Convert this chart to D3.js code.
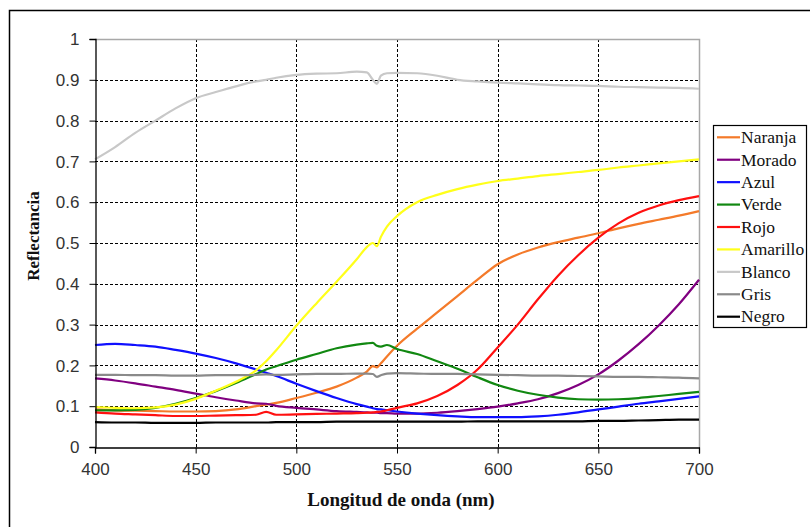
<!DOCTYPE html>
<html><head><meta charset="utf-8">
<script src="https://cdn.jsdelivr.net/npm/d3@7"></script>
<style>
body{margin:0;background:#fff;}
svg{display:block;}
</style>
</head><body>
<svg id="c" width="810" height="527"></svg>
<script>
const wavelengths = [400,410,420,430,440,450,460,470,480,485,490,500,510,520,530,535,538,540,542,545,550,560,570,580,590,600,610,620,630,640,650,660,670,680,690,700];
const naranja  = [0.092,0.090,0.089,0.088,0.087,0.087,0.088,0.092,0.100,0.104,0.108,0.120,0.133,0.148,0.170,0.185,0.198,0.195,0.205,0.222,0.248,0.290,0.330,0.370,0.410,0.448,0.472,0.489,0.502,0.513,0.524,0.536,0.547,0.557,0.567,0.578];
const morado   = [0.168,0.163,0.156,0.148,0.140,0.131,0.122,0.114,0.107,0.106,0.101,0.096,0.092,0.088,0.086,0.085,0.084,0.084,0.083,0.083,0.082,0.082,0.084,0.088,0.093,0.099,0.107,0.117,0.132,0.152,0.178,0.212,0.252,0.298,0.350,0.410];
const azul     = [0.250,0.253,0.250,0.246,0.238,0.229,0.218,0.205,0.190,0.182,0.174,0.155,0.137,0.120,0.105,0.099,0.095,0.093,0.092,0.090,0.087,0.082,0.078,0.075,0.073,0.073,0.073,0.075,0.079,0.085,0.092,0.099,0.106,0.112,0.118,0.124];
const verde    = [0.090,0.090,0.091,0.096,0.106,0.120,0.137,0.157,0.179,0.190,0.198,0.214,0.228,0.242,0.251,0.254,0.255,0.248,0.246,0.250,0.240,0.228,0.210,0.192,0.171,0.152,0.138,0.128,0.121,0.117,0.116,0.117,0.120,0.125,0.130,0.135];
const rojo     = [0.085,0.082,0.080,0.078,0.076,0.076,0.077,0.078,0.079,0.086,0.079,0.080,0.081,0.082,0.083,0.084,0.085,0.086,0.087,0.090,0.096,0.107,0.125,0.152,0.190,0.244,0.300,0.362,0.420,0.470,0.513,0.548,0.574,0.592,0.605,0.615];
const amarillo = [0.098,0.096,0.095,0.097,0.104,0.118,0.138,0.160,0.188,0.210,0.237,0.297,0.352,0.405,0.460,0.490,0.500,0.492,0.515,0.540,0.566,0.600,0.618,0.632,0.643,0.652,0.658,0.664,0.669,0.674,0.679,0.685,0.690,0.695,0.700,0.705];
const blanco   = [0.705,0.735,0.770,0.800,0.830,0.855,0.870,0.884,0.896,0.900,0.905,0.912,0.915,0.916,0.920,0.918,0.900,0.890,0.910,0.916,0.917,0.916,0.910,0.900,0.896,0.893,0.891,0.889,0.887,0.886,0.885,0.883,0.882,0.881,0.880,0.878];
const gris     = [0.177,0.177,0.176,0.176,0.175,0.175,0.176,0.176,0.177,0.178,0.177,0.178,0.179,0.179,0.180,0.180,0.179,0.172,0.176,0.180,0.181,0.180,0.179,0.179,0.178,0.177,0.176,0.175,0.175,0.174,0.173,0.172,0.172,0.171,0.170,0.168];
const negro    = [0.061,0.060,0.060,0.059,0.059,0.059,0.060,0.060,0.060,0.060,0.061,0.061,0.061,0.062,0.062,0.062,0.062,0.062,0.062,0.062,0.062,0.062,0.062,0.062,0.063,0.063,0.063,0.063,0.063,0.063,0.064,0.064,0.065,0.066,0.067,0.067];

const seriesNames = ["Naranja","Morado","Azul","Verde","Rojo","Amarillo","Blanco","Gris","Negro"];
const seriesValues = [naranja,morado,azul,verde,rojo,amarillo,blanco,gris,negro];
const seriesColors = ["#f47a2a","#800080","#1010ff","#118811","#ff1010","#ffff1a","#c8c8c8","#8a8a8a","#000000"];
const xTicks = [400,450,500,550,600,650,700];
const yTicks = [0,0.1,0.2,0.3,0.4,0.5,0.6,0.7,0.8,0.9,1];
const xTitle = "Longitud de onda (nm)";
const yTitle = "Reflectancia";

const svg = d3.select("#c");
const L = 95, R = 699, T = 39, B = 447;
const x = d3.scaleLinear().domain([400,700]).range([L,R]);
const y = d3.scaleLinear().domain([0,1]).range([B,T]);

// outer frame
svg.append("rect").attr("x",9.5).attr("y",10.5).attr("width",900).attr("height",600)
  .attr("fill","none").attr("stroke","#000").attr("stroke-width",1.5);

// gridlines
const g = svg.append("g");
g.selectAll("line.gy").data(yTicks.filter(d=>d>0&&d<1)).join("line")
  .attr("x1",L).attr("x2",R).attr("y1",d=>Math.round(y(d))+0.5).attr("y2",d=>Math.round(y(d))+0.5)
  .attr("stroke","#000").attr("stroke-width",1).attr("stroke-dasharray","3,2");
g.selectAll("line.gx").data(xTicks.filter(d=>d>400&&d<700)).join("line")
  .attr("y1",T).attr("y2",B).attr("x1",d=>Math.round(x(d))+0.5).attr("x2",d=>Math.round(x(d))+0.5)
  .attr("stroke","#000").attr("stroke-width",1).attr("stroke-dasharray","3,2");
// plot border top/right
svg.append("path").attr("d",`M${L},${T+0.5}H${R+0.5}V${B}`).attr("fill","none")
  .attr("stroke","#a8a8a8").attr("stroke-width",1.5);

// lines
const line = d3.line().x((d,i)=>x(wavelengths[i])).y(d=>y(d)).curve(d3.curveMonotoneX);
svg.append("g").selectAll("path").data(seriesValues).join("path")
  .attr("d",d=>line(d)).attr("fill","none")
  .attr("stroke",(d,i)=>seriesColors[i]).attr("stroke-width",2.2)
  .attr("stroke-linejoin","round");

// axes
const fmt = d => (d===0||d===1) ? String(d) : d.toFixed(1);
const ya = svg.append("g").attr("transform",`translate(${L+0.5},0)`)
  .call(d3.axisLeft(y).tickValues(yTicks).tickSize(6).tickPadding(10).tickFormat(fmt));
const xa = svg.append("g").attr("transform",`translate(0,${B+0.5})`)
  .call(d3.axisBottom(x).tickValues(xTicks).tickSize(6).tickPadding(9).tickFormat(d3.format("d")));
[ya,xa].forEach(a=>{
  a.select(".domain").attr("stroke","#000").attr("stroke-width",1.3);
  a.selectAll(".tick line").attr("stroke","#000");
  a.selectAll("text").attr("font-family","Liberation Sans, Arial, sans-serif").attr("font-size",17).attr("fill","#333");
});
ya.selectAll(".tick text").attr("dy","0.34em");

// titles
svg.append("text").attr("x",401).attr("y",506).attr("text-anchor","middle")
  .attr("font-family","Liberation Serif, Times New Roman, serif").attr("font-weight","bold")
  .attr("font-size",19).attr("fill","#111").text(xTitle);
svg.append("text").attr("transform","translate(39,236) rotate(-90)").attr("text-anchor","middle")
  .attr("font-family","Liberation Serif, Times New Roman, serif").attr("font-weight","bold")
  .attr("font-size",17).attr("fill","#111").text(yTitle);

// legend
const lg = svg.append("g");
lg.append("rect").attr("x",713.5).attr("y",125.5).attr("width",93).attr("height",202)
  .attr("fill","#fff").attr("stroke","#000").attr("stroke-width",1.2);
const ly = d3.scaleLinear().domain([0,8]).range([137.3,316.7]);
const items = lg.selectAll("g.it").data(seriesNames).join("g")
  .attr("transform",(d,i)=>`translate(0,${ly(i)})`);
items.append("line").attr("x1",717).attr("x2",740).attr("y1",0).attr("y2",0)
  .attr("stroke",(d,i)=>seriesColors[i]).attr("stroke-width",2.2);
items.append("text").attr("x",741).attr("y",0).attr("dy","0.33em")
  .attr("font-family","Liberation Serif, Times New Roman, serif").attr("font-size",17.5)
  .attr("fill","#111").text(d=>d);
</script>
</body></html>
